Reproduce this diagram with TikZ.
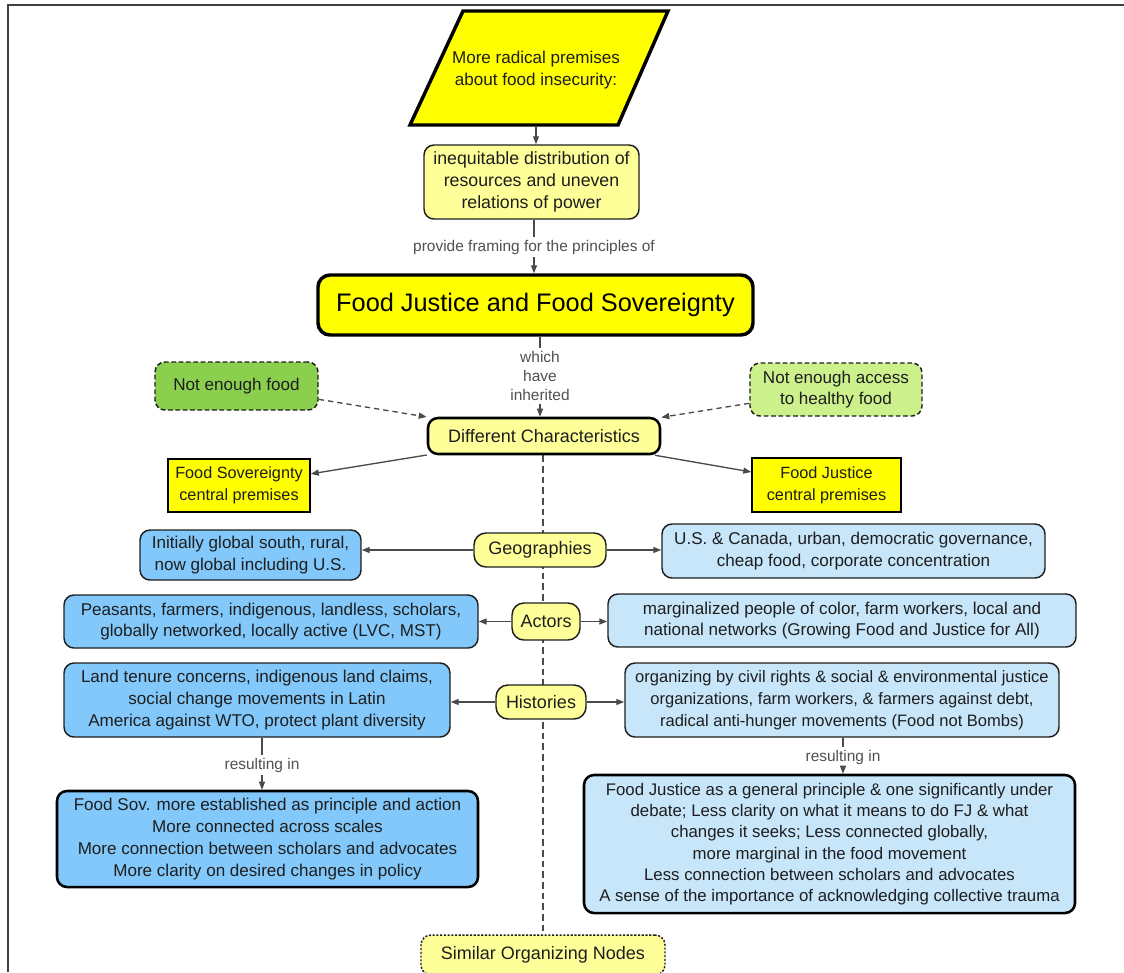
\documentclass[tikz,border=0pt]{standalone}
\usepackage{fontspec}
\setmainfont{Liberation Sans}
\usetikzlibrary{arrows.meta,backgrounds}
\definecolor{yel}{HTML}{FFFF00}
\definecolor{lyel}{HTML}{FFFF99}
\definecolor{dblue}{HTML}{82C8FA}
\definecolor{lblue}{HTML}{C8E6FA}
\definecolor{grn}{HTML}{8BCF4F}
\definecolor{lgrn}{HTML}{CCF08C}
\definecolor{edge}{HTML}{4A4A4A}
\definecolor{txt}{HTML}{1E1E1E}
\definecolor{lbl}{HTML}{505050}
\begin{document}
\begin{tikzpicture}[x=0.75pt,y=-0.75pt,
  base/.style={align=center, inner sep=0pt, text=txt, font=\fontsize{12.8}{16.3}\selectfont},
  rbox/.style={base, draw=txt, line width=1.1pt, rounded corners=7.5pt},
  sbox/.style={base, draw=txt, line width=1.1pt},
  thickbox/.style={base, draw=black, line width=1.9pt, rounded corners=7.5pt},
  dashbox/.style={base, draw=txt, line width=1.1pt, rounded corners=7.5pt, dash pattern=on 3.5pt off 2pt},
  lab/.style={align=center, inner sep=2pt, text=lbl, font=\fontsize{11.6}{14.2}\selectfont},
  link/.style={draw=edge, line width=1pt},
  arr/.style={draw=edge, line width=1pt, -{Triangle[length=6pt,width=4.5pt]}},
  darr/.style={arr, dash pattern=on 4pt off 3pt},
  vdash/.style={draw=edge, line width=1pt, dash pattern=on 5pt off 3pt}
]
\useasboundingbox (0,0) rectangle (1124,972);
\draw[line width=1.3pt, draw=black!75] (8,972) -- (8,5) -- (1124,5);

% parallelogram
\fill[yel] (463,11) -- (668,11) -- (618,125) -- (410,125) -- cycle;
\draw[line width=2.6pt, line join=miter] (463,11) -- (668,11) -- (618,125) -- (410,125) -- cycle;
\node[base, minimum width=120pt, minimum height=85.5pt] (prem) at (536,70) {More radical premises\\about food insecurity:};

\node[rbox, fill=lyel, minimum width=161.25pt, minimum height=55.5pt, font=\fontsize{13.3}{16.5}\selectfont] (ineq) at (531.5,182) {inequitable distribution of\\resources and uneven\\relations of power};
\node[lab] (lab1) at (534,247) {provide framing for the principles of};
\node[base, draw=black, line width=2.6pt, rounded corners=9pt, fill=yel, minimum width=326.25pt, minimum height=45pt, font=\fontsize{19}{22}\selectfont, text=black] (fjfs) at (535.5,305) {Food Justice and Food Sovereignty};
\node[lab] (lab2) at (540,376) {which\\have\\inherited};
\node[thickbox, fill=lyel, minimum width=174pt, minimum height=27pt, font=\fontsize{13.5}{16}\selectfont] (dc) at (544,436) {Different Characteristics};

\node[dashbox, fill=grn, minimum width=122.25pt, minimum height=36pt] (nef) at (236.5,386) {Not enough food};
\node[dashbox, fill=lgrn, minimum width=129pt, minimum height=39.75pt] (neh) at (836,389.5) {Not enough access\\to healthy food};

\node[sbox, fill=yel, draw=black, minimum width=106.5pt, minimum height=39.75pt, font=\fontsize{12.2}{16.3}\selectfont] (fsp) at (239,485.5) {Food Sovereignty\\central premises};
\node[sbox, fill=yel, draw=black, minimum width=111.75pt, minimum height=40.5pt, font=\fontsize{12.2}{16.3}\selectfont] (fjp) at (826.5,485) {Food Justice\\central premises};

\node[rbox, fill=lyel, rounded corners=9pt, minimum width=99pt, minimum height=25.5pt, font=\fontsize{13.5}{16}\selectfont] (geo) at (540,550) {Geographies};
\node[rbox, fill=dblue, minimum width=165.75pt, minimum height=37.5pt] (geoL) at (250.5,555) {Initially global south, rural,\\now global including U.S.};
\node[rbox, fill=lblue, minimum width=287.25pt, minimum height=40.5pt] (geoR) at (853.5,551) {U.S. \& Canada, urban, democratic governance,\\cheap food, corporate concentration};

\node[rbox, fill=lyel, rounded corners=9pt, minimum width=51pt, minimum height=27.75pt, font=\fontsize{13.5}{16}\selectfont] (act) at (546,621.5) {Actors};
\node[rbox, fill=dblue, minimum width=310.5pt, minimum height=39.75pt] (actL) at (271,621.5) {Peasants, farmers, indigenous, landless, scholars,\\globally networked, locally active (LVC, MST)};
\node[rbox, fill=lblue, minimum width=351pt, minimum height=39.75pt] (actR) at (842,620.5) {marginalized people of color, farm workers, local and\\national networks (Growing Food and Justice for All)};

\node[rbox, fill=lyel, rounded corners=9pt, minimum width=67.5pt, minimum height=25.5pt, font=\fontsize{13.5}{16}\selectfont] (his) at (541,702) {Histories};
\node[rbox, fill=dblue, minimum width=289.5pt, minimum height=55.5pt] (hisL) at (257,700) {Land tenure concerns, indigenous land claims,\\social change movements in Latin\\America against WTO, protect plant diversity};
\node[rbox, fill=lblue, minimum width=325.5pt, minimum height=55.5pt, font=\fontsize{12.4}{16.3}\selectfont] (hisR) at (842,700) {organizing by civil rights \& social \& environmental justice\\organizations, farm workers, \& farmers against debt,\\radical anti-hunger movements (Food not Bombs)};

\node[lab] (lab3) at (262,765) {resulting in};
\node[lab] (lab4) at (843,757) {resulting in};

\node[thickbox, fill=dblue, minimum width=315.75pt, minimum height=72pt] (sovB) at (267.5,839) {Food Sov. more established as principle and action\\More connected across scales\\More connection between scholars and advocates\\More clarity on desired changes in policy};
\node[thickbox, fill=lblue, minimum width=368.25pt, minimum height=103.5pt, font=\fontsize{12.6}{16}\selectfont] (jusB) at (829.5,844) {Food Justice as a general principle \& one significantly under\\debate; Less clarity on what it means to do FJ \& what\\changes it seeks; Less connected globally,\\more marginal in the food movement\\Less connection between scholars and advocates\\A sense of the importance of acknowledging collective trauma};

\node[base, draw=txt, line width=1.1pt, rounded corners=7.5pt, dash pattern=on 1.6pt off 1.2pt, fill=lyel, minimum width=183pt, minimum height=30pt, font=\fontsize{13.5}{16}\selectfont] (son) at (543,955) {Similar Organizing Nodes};

% connectors
\begin{scope}[on background layer]
\draw[vdash] (dc.south -| son.north) -- (son.north);
\end{scope}
\draw[arr] (prem.south) -- (prem.south |- ineq.north);
\draw[link] (ineq.south -| lab1) -- (lab1.north);
\draw[arr] (lab1.south) -- (lab1.south |- fjfs.north);
\draw[link] (fjfs.south -| lab2) -- (lab2.north);
\draw[arr] (lab2.south) -- (lab2.south |- dc.north);
\draw[darr] (nef) -- (dc);
\draw[darr] (neh) -- (dc);
\draw[arr] (dc) -- (fsp);
\draw[arr] (dc) -- (fjp);
\draw[arr] (geo.west) -- (geo.west -| geoL.east);
\draw[arr] (geo.east) -- (geo.east -| geoR.west);
\draw[arr] (act.west) -- (act.west -| actL.east);
\draw[arr] (act.east) -- (act.east -| actR.west);
\draw[arr] (his.west) -- (his.west -| hisL.east);
\draw[arr] (his.east) -- (his.east -| hisR.west);
\draw[link] (hisL.south -| lab3) -- (lab3.north);
\draw[arr] (lab3.south) -- (lab3.south |- sovB.north);
\draw[link] (hisR.south -| lab4) -- (lab4.north);
\draw[arr] (lab4.south) -- (lab4.south |- jusB.north);
\end{tikzpicture}
\end{document}
